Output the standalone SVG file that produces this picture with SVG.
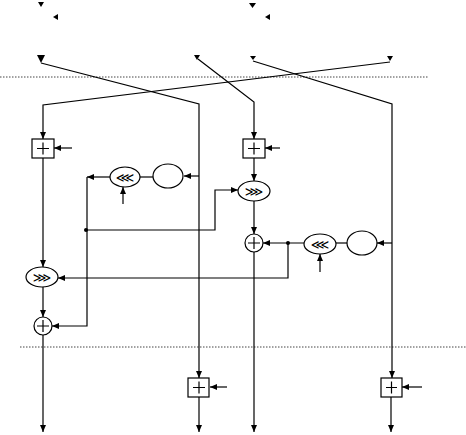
<svg xmlns="http://www.w3.org/2000/svg" width="466" height="435" viewBox="0 0 466 435">
<style>
.ln{fill:none;stroke:#000;stroke-width:1.2}
.dot{fill:none;stroke:#444;stroke-width:1;stroke-dasharray:1.5,1.5}
.shp{fill:#fff;stroke:#000;stroke-width:1.2}
.op{font-family:"DejaVu Sans",sans-serif;font-size:13px;text-anchor:middle}
.ah{fill:#000}
</style>
<defs>
<marker id="a" markerWidth="7" markerHeight="6" refX="7" refY="3" orient="auto" markerUnits="userSpaceOnUse"><path d="M0,0 L7,3 L0,6 Z" fill="#000"/></marker>
</defs>
<line class="dot" x1="0" y1="77" x2="428" y2="77"/>
<line class="dot" x1="20" y1="347" x2="466" y2="347"/>
<g id="heads">
<polygon class="ah" points="38,2 44,2 41,7"/>
<polygon class="ah" points="58,14 58,20 53,17"/>
<polygon class="ah" points="249,3 256,3 252.5,8"/>
<polygon class="ah" points="270,14 270,20 265,17"/>
<polygon class="ah" points="37,55 45,55 41,63"/>
<polygon class="ah" points="194,55 200,55 197,60"/>
<polygon class="ah" points="250,56 256,56 253,60"/>
<polygon class="ah" points="387,56 393,56 390,61"/>
</g>
<g id="connectors">
<path class="ln" d="M41,63 L199,104 L199,378" marker-end="url(#a)"/>
<path class="ln" d="M198,59 L254,102 L254,139" marker-end="url(#a)"/>
<path class="ln" d="M253,61 L392,104 L392,378" marker-end="url(#a)"/>
<path class="ln" d="M390,62 L43,105 L43,139" marker-end="url(#a)"/>
<path class="ln" d="M72,148 L54,148" marker-end="url(#a)"/>
<path class="ln" d="M43,158 L43,267" marker-end="url(#a)"/>
<path class="ln" d="M43,287 L43,317" marker-end="url(#a)"/>
<path class="ln" d="M43,335 L43,432" marker-end="url(#a)"/>
<path class="ln" d="M199,176 L184,176" marker-end="url(#a)"/>
<path class="ln" d="M153,177 L140,177"/>
<path class="ln" d="M110,177 L87,177" marker-end="url(#a)"/>
<path class="ln" d="M87,177 L87,326 L52,326" marker-end="url(#a)"/>
<path class="ln" d="M123,204 L123,187" marker-end="url(#a)"/>
<path class="ln" d="M86,230 L215,230 L215,190 L238,190" marker-end="url(#a)"/>
<circle cx="86" cy="230" r="2" fill="#000"/>
<path class="ln" d="M280,148 L265,148" marker-end="url(#a)"/>
<path class="ln" d="M254,158 L254,181" marker-end="url(#a)"/>
<path class="ln" d="M254,201 L254,234" marker-end="url(#a)"/>
<path class="ln" d="M254,252 L254,432" marker-end="url(#a)"/>
<path class="ln" d="M392,243 L377,243" marker-end="url(#a)"/>
<path class="ln" d="M347,243 L336,243"/>
<path class="ln" d="M304,243 L263,243" marker-end="url(#a)"/>
<circle cx="288" cy="243" r="2" fill="#000"/>
<path class="ln" d="M288,243 L288,278 L58,278" marker-end="url(#a)"/>
<path class="ln" d="M320,272 L320,254" marker-end="url(#a)"/>
<path class="ln" d="M227,387 L210,387" marker-end="url(#a)"/>
<path class="ln" d="M199,397 L199,432" marker-end="url(#a)"/>
<path class="ln" d="M422,387 L402,387" marker-end="url(#a)"/>
<path class="ln" d="M391,397 L391,432" marker-end="url(#a)"/>
</g>
<g id="add1"><rect class="shp" x="32" y="139" width="22" height="19"/><path class="ln" d="M37,148.5 H49 M43,142.5 V154.5"/></g>
<g id="add2"><rect class="shp" x="243" y="139" width="22" height="19"/><path class="ln" d="M248,148.5 H260 M254,142.5 V154.5"/></g>
<g id="add3"><rect class="shp" x="188" y="378" width="21" height="19"/><path class="ln" d="M193,387.5 H205 M199,381.5 V393.5"/></g>
<g id="add4"><rect class="shp" x="381" y="378" width="21" height="19"/><path class="ln" d="M386,387.5 H397 M391.5,381.5 V393.5"/></g>
<g id="rotl1"><ellipse class="shp" cx="125" cy="177" rx="15" ry="10"/><text class="op" x="125" y="182">⋘</text></g>
<g id="f1"><ellipse class="shp" cx="168" cy="176" rx="15" ry="12"/></g>
<g id="rotr1"><ellipse class="shp" cx="254" cy="191" rx="16" ry="10"/><text class="op" x="254" y="196">⋙</text></g>
<g id="xor1"><circle class="shp" cx="254" cy="243" r="9"/><path class="ln" d="M248,243 H260 M254,237 V249"/></g>
<g id="rotl2"><ellipse class="shp" cx="320" cy="244" rx="16" ry="10"/><text class="op" x="320" y="249">⋘</text></g>
<g id="f2"><ellipse class="shp" cx="362" cy="243" rx="15" ry="12"/></g>
<g id="rotr2"><ellipse class="shp" cx="42" cy="277" rx="16" ry="10"/><text class="op" x="42" y="282">⋙</text></g>
<g id="xor2"><circle class="shp" cx="43" cy="326" r="9"/><path class="ln" d="M37,326 H49 M43,320 V332"/></g>
</svg>
